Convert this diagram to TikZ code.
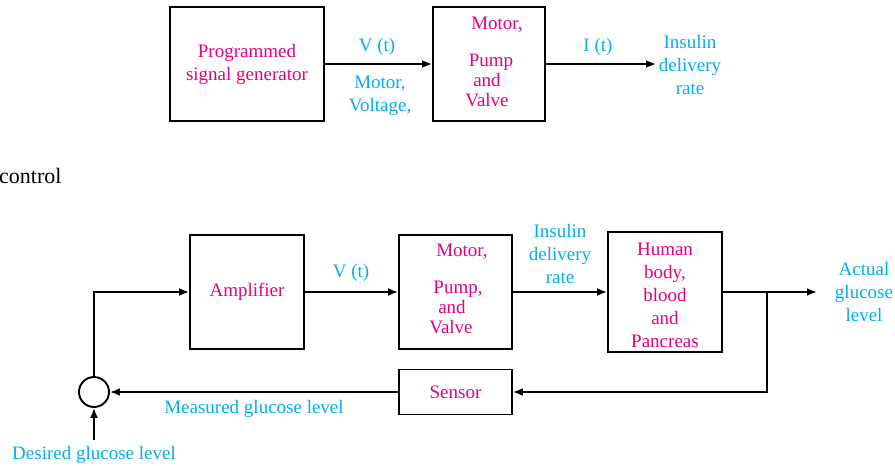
\documentclass[tikz,border=0pt]{standalone}
\usepackage{fontspec}
\setmainfont{Liberation Serif}
\newfontfamily\diagfont{Liberation Serif}
\usetikzlibrary{arrows.meta}
\definecolor{blocktext}{HTML}{E6007E}
\definecolor{signaltext}{HTML}{00AEEF}
\tikzset{
  blk/.style={draw, line width=1.9pt, inner sep=0pt, text=blocktext, align=center},
  lbl/.style={text=signaltext, align=center, inner sep=0pt},
  arr/.style={line width=1.9pt, -{Latex[length=10pt,width=8pt]}},
  wire/.style={line width=1.9pt}
}
\begin{document}
\begin{tikzpicture}[x=1pt,y=-1pt,font=\diagfont\fontsize{19}{23}\selectfont]
	  \useasboundingbox (0,0) rectangle (895,466);
	  % open loop
	  \node[blk, minimum width=154, minimum height=114] (gen) at (247,64) {Programmed\\signal generator};
	  \node[blk, minimum width=112, minimum height=114] (pump1) at (489,64) {};
	  \node[text=blocktext, inner sep=0pt] (m1) at (497,25) {Motor,};
	  \node[text=blocktext, inner sep=0pt] (p1) at (491,62) {Pump};
	  \node[text=blocktext, inner sep=0pt] (a1) at (487,80) {and};
	  \node[text=blocktext, inner sep=0pt] (v1) at (487,100) {Valve};
	  \coordinate (ins1) at (656,64);
	  \node[lbl] (vt1) at (377,47) {V (t)};
	  \node[lbl] (mv) at (380,96) {Motor,\\Voltage,};
	  \node[lbl] (it) at (598,47) {I (t)};
	  \node[lbl] (rate1) at (690,65) {Insulin\\delivery\\rate};
	  
	  \draw[arr] (gen) -- (pump1);
	  \draw[arr] (pump1) -- (ins1);
	  
	  % closed loop
	  \node[anchor=west, inner sep=0pt, font=\diagfont\fontsize{22}{26}\selectfont] (title) at (-1,176) {control};
	  \node[blk, minimum width=114, minimum height=114] (amp) at (247,292) {Amplifier};
	  \node[blk, minimum width=113, minimum height=114] (pump2) at (455.5,292) {};
	  \node[text=blocktext, inner sep=0pt] (m2) at (462,252) {Motor,};
	  \node[text=blocktext, inner sep=0pt] (p2) at (458,289) {Pump,};
	  \node[text=blocktext, inner sep=0pt] (a2) at (452,307) {and};
	  \node[text=blocktext, inner sep=0pt] (v2) at (451,327) {Valve};
	  \node[blk, minimum width=114, minimum height=120] (body) at (665,292) {};
	  \node[text=blocktext, align=center, inner sep=0pt] (bodytxt) at (665,295) {Human\\body,\\blood\\and\\Pancreas};
	  \node[blk, minimum width=113, minimum height=45] (sensor) at (455.5,392) {Sensor};
	  \node[circle, draw, line width=1.9pt, minimum size=30, inner sep=0pt] (sum) at (94,392) {};
	  \coordinate (out) at (817,292);
	  \coordinate (br) at (767,292);
	  \coordinate (des) at (94,440);
	  \node[lbl] (vt2) at (351,273) {V (t)};
	  \node[lbl] (rate2) at (560,254) {Insulin\\delivery\\rate};
	  \node[lbl] (act) at (864,292) {Actual\\glucose\\level};
	  \node[lbl] (meas) at (254,409) {Measured glucose level};
	  \node[lbl] (dgl) at (94,455) {Desired glucose level};
	  
	  \draw[arr] (sum.north) |- (amp.west);
	  \draw[arr] (amp) -- (pump2);
	  \draw[arr] (pump2) -- (body);
	  \draw[arr] (body) -- (out);
	  \draw[arr] (br) |- (sensor.east);
	  \draw[arr] (sensor) -- (sum);
	  \draw[arr] (des) -- (sum.south);
	\end{tikzpicture}
\end{document}
